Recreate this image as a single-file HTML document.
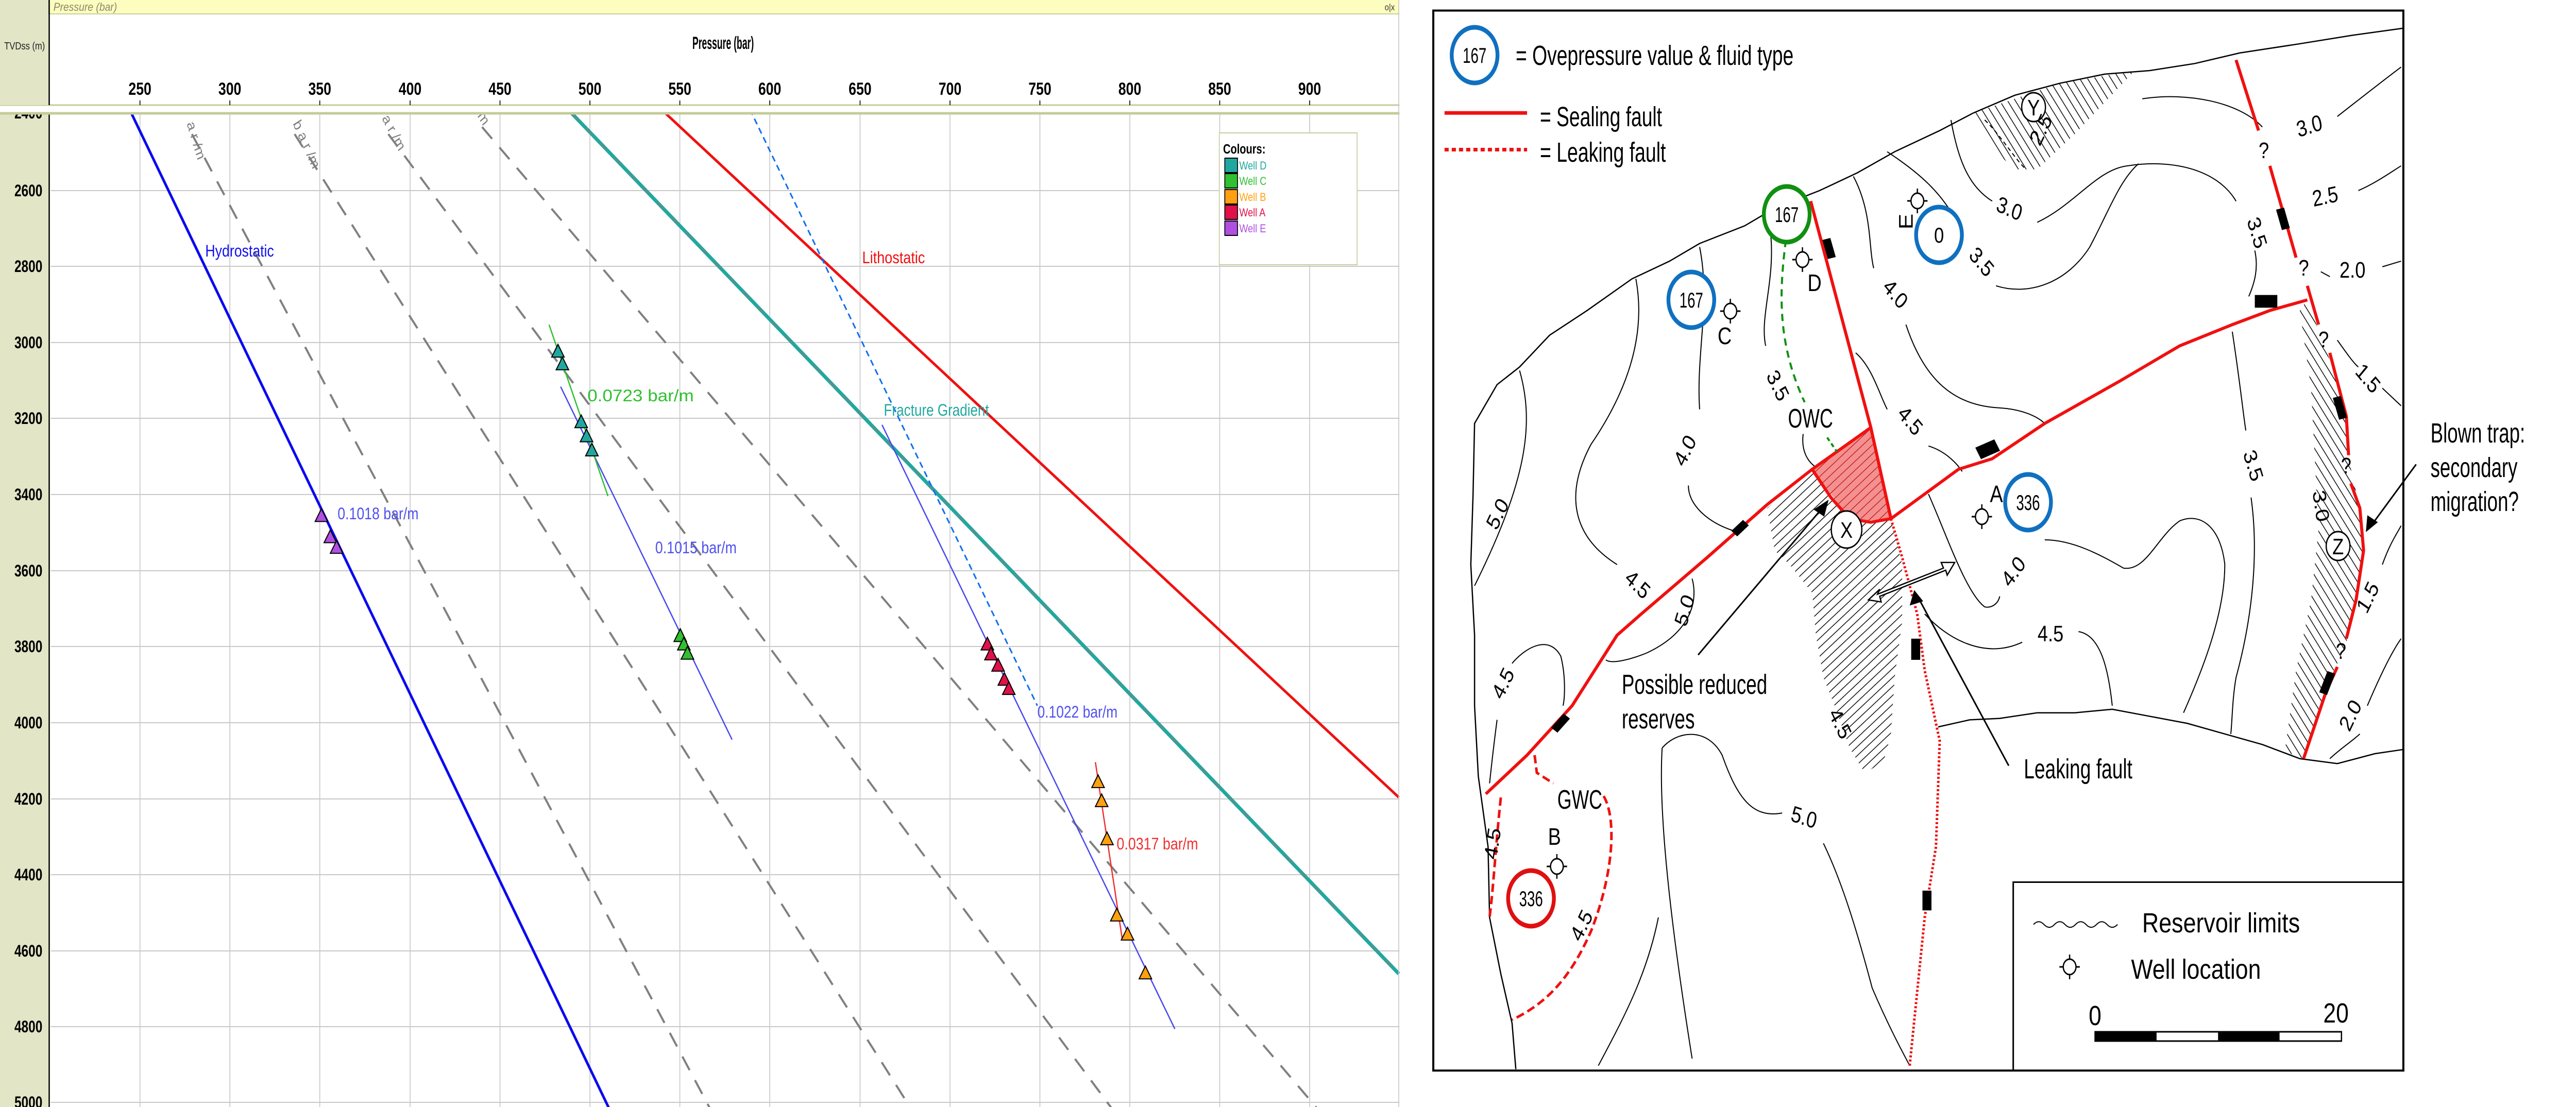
<!DOCTYPE html>
<html><head><meta charset="utf-8"><style>
html,body{margin:0;padding:0;background:#fff;width:100%;height:100%;overflow:hidden;}
svg{display:block;width:100vw;height:100vh;}
text{font-family:"Liberation Sans",sans-serif;}
</style></head><body>
<svg width="6074" height="2149" viewBox="0 0 6074 2149" preserveAspectRatio="none" xmlns="http://www.w3.org/2000/svg">
<defs>
<pattern id="hatch" patternUnits="userSpaceOnUse" width="9" height="9" patternTransform="rotate(45)">
<line x1="0" y1="0" x2="0" y2="9" stroke="#000" stroke-width="2"/>
</pattern>
<pattern id="hatchR" patternUnits="userSpaceOnUse" width="9" height="9" patternTransform="rotate(45)">
<rect width="9" height="9" fill="#f59090"/>
<line x1="0" y1="0" x2="0" y2="9" stroke="#c02020" stroke-width="2"/>
</pattern>
<pattern id="hatch2" patternUnits="userSpaceOnUse" width="9" height="9" patternTransform="rotate(-30)">
<line x1="0" y1="0" x2="0" y2="9" stroke="#000" stroke-width="2"/>
</pattern>
</defs>
<rect width="6074" height="2149" fill="#fff"/>

<!-- ============ LEFT CHART ============ -->
<rect x="0" y="0" width="116" height="2149" fill="#e2e5c6"/>
<line x1="116" y1="0" x2="116" y2="2149" stroke="#000" stroke-width="3"/>
<rect x="117" y="0" width="3183" height="27" fill="#fdfdc0"/>
<line x1="117" y1="27" x2="3300" y2="27" stroke="#c8d0a0" stroke-width="2"/>
<text x="126" y="21" font-size="22" font-style="italic" fill="#8a8a6a" textLength="150" lengthAdjust="spacingAndGlyphs">Pressure (bar)</text>
<text x="3265" y="20" font-size="18" fill="#333">o|x</text>

<!-- grid -->
<g stroke="#c8c8c8" stroke-width="2">
<line x1="330" y1="222" x2="330" y2="2149"/><line x1="542" y1="222" x2="542" y2="2149"/><line x1="754" y1="222" x2="754" y2="2149"/><line x1="967" y1="222" x2="967" y2="2149"/><line x1="1179" y1="222" x2="1179" y2="2149"/><line x1="1391" y1="222" x2="1391" y2="2149"/><line x1="1603" y1="222" x2="1603" y2="2149"/><line x1="1815" y1="222" x2="1815" y2="2149"/><line x1="2028" y1="222" x2="2028" y2="2149"/><line x1="2240" y1="222" x2="2240" y2="2149"/><line x1="2452" y1="222" x2="2452" y2="2149"/><line x1="2664" y1="222" x2="2664" y2="2149"/><line x1="2876" y1="222" x2="2876" y2="2149"/><line x1="3088" y1="222" x2="3088" y2="2149"/>
<line x1="120" y1="370" x2="3300" y2="370"/><line x1="120" y1="517" x2="3300" y2="517"/><line x1="120" y1="665" x2="3300" y2="665"/><line x1="120" y1="812" x2="3300" y2="812"/><line x1="120" y1="960" x2="3300" y2="960"/><line x1="120" y1="1108" x2="3300" y2="1108"/><line x1="120" y1="1255" x2="3300" y2="1255"/><line x1="120" y1="1403" x2="3300" y2="1403"/><line x1="120" y1="1551" x2="3300" y2="1551"/><line x1="120" y1="1698" x2="3300" y2="1698"/><line x1="120" y1="1846" x2="3300" y2="1846"/><line x1="120" y1="1993" x2="3300" y2="1993"/><line x1="120" y1="2140" x2="3300" y2="2140"/>
</g>
<g font-size="32" font-weight="bold" text-anchor="end">
<text x="100" y="381" textLength="66" lengthAdjust="spacingAndGlyphs">2600</text><text x="100" y="528" textLength="66" lengthAdjust="spacingAndGlyphs">2800</text><text x="100" y="676" textLength="66" lengthAdjust="spacingAndGlyphs">3000</text><text x="100" y="823" textLength="66" lengthAdjust="spacingAndGlyphs">3200</text><text x="100" y="971" textLength="66" lengthAdjust="spacingAndGlyphs">3400</text><text x="100" y="1119" textLength="66" lengthAdjust="spacingAndGlyphs">3600</text><text x="100" y="1266" textLength="66" lengthAdjust="spacingAndGlyphs">3800</text><text x="100" y="1414" textLength="66" lengthAdjust="spacingAndGlyphs">4000</text><text x="100" y="1562" textLength="66" lengthAdjust="spacingAndGlyphs">4200</text><text x="100" y="1709" textLength="66" lengthAdjust="spacingAndGlyphs">4400</text><text x="100" y="1857" textLength="66" lengthAdjust="spacingAndGlyphs">4600</text><text x="100" y="2004" textLength="66" lengthAdjust="spacingAndGlyphs">4800</text><text x="100" y="2151" textLength="66" lengthAdjust="spacingAndGlyphs">5000</text>
<text x="100" y="230" textLength="66" lengthAdjust="spacingAndGlyphs">2400</text>
</g>

<!-- chart lines in zoom1 coordinates -->
<g transform="scale(2.105,1.370)" fill="none">
<g stroke="#808080" stroke-width="4" stroke-dasharray="30 22">
<line x1="215" y1="190" x2="795" y2="1570" vector-effect="non-scaling-stroke"/>
<line x1="330" y1="190" x2="1020" y2="1570" vector-effect="non-scaling-stroke"/>
<line x1="435" y1="190" x2="1245" y2="1570" vector-effect="non-scaling-stroke"/>
<line x1="540" y1="180" x2="1475" y2="1570" vector-effect="non-scaling-stroke"/>
</g>
<line x1="147" y1="160" x2="682" y2="1570" stroke="#0a0af0" stroke-width="5" vector-effect="non-scaling-stroke"/>
<line x1="745" y1="160" x2="1567" y2="1130" stroke="#f01010" stroke-width="5" vector-effect="non-scaling-stroke"/>
<line x1="640" y1="160" x2="1567" y2="1380" stroke="#20a8a0" stroke-width="7" vector-effect="non-scaling-stroke"/>
<line x1="640" y1="160" x2="1567" y2="1380" stroke="#808080" stroke-width="2" stroke-dasharray="20 20" vector-effect="non-scaling-stroke"/>
<line x1="840" y1="155" x2="1162" y2="1000" stroke="#1070f0" stroke-width="3" stroke-dasharray="12 8" vector-effect="non-scaling-stroke"/>
<line x1="628" y1="548" x2="820" y2="1048" stroke="#4848f0" stroke-width="2.5" vector-effect="non-scaling-stroke"/>
<line x1="988" y1="602" x2="1316" y2="1458" stroke="#4848f0" stroke-width="2.5" vector-effect="non-scaling-stroke"/>
<line x1="615" y1="460" x2="681" y2="703" stroke="#30c030" stroke-width="2.5" vector-effect="non-scaling-stroke"/>
<line x1="1227" y1="1080" x2="1257" y2="1330" stroke="#f03030" stroke-width="2.5" vector-effect="non-scaling-stroke"/>
<g stroke="#000" stroke-width="2">
<g fill="#20a8a0"><polygon points="618,506 632,506 625,488" vector-effect="non-scaling-stroke"/><polygon points="623,524 637,524 630,506" vector-effect="non-scaling-stroke"/><polygon points="644,606 658,606 651,588" vector-effect="non-scaling-stroke"/><polygon points="650,626 664,626 657,608" vector-effect="non-scaling-stroke"/><polygon points="656,646 670,646 663,628" vector-effect="non-scaling-stroke"/></g>
<g fill="#30c030"><polygon points="755,909 769,909 762,891" vector-effect="non-scaling-stroke"/><polygon points="759,921 773,921 766,903" vector-effect="non-scaling-stroke"/><polygon points="763,934 777,934 770,916" vector-effect="non-scaling-stroke"/></g>
<g fill="#e0104a"><polygon points="1099,921 1113,921 1106,903" vector-effect="non-scaling-stroke"/><polygon points="1103,935 1117,935 1110,917" vector-effect="non-scaling-stroke"/><polygon points="1111,951 1125,951 1118,933" vector-effect="non-scaling-stroke"/><polygon points="1118,971 1132,971 1125,953" vector-effect="non-scaling-stroke"/><polygon points="1123,984 1137,984 1130,966" vector-effect="non-scaling-stroke"/></g>
<g fill="#ffa010"><polygon points="1223,1116 1237,1116 1230,1098" vector-effect="non-scaling-stroke"/><polygon points="1227,1143 1241,1143 1234,1125" vector-effect="non-scaling-stroke"/><polygon points="1233,1197 1247,1197 1240,1179" vector-effect="non-scaling-stroke"/><polygon points="1244,1305 1258,1305 1251,1287" vector-effect="non-scaling-stroke"/><polygon points="1256,1332 1270,1332 1263,1314" vector-effect="non-scaling-stroke"/><polygon points="1276,1387 1290,1387 1283,1369" vector-effect="non-scaling-stroke"/></g>
<g fill="#b050e0"><polygon points="353,739 367,739 360,721" vector-effect="non-scaling-stroke"/><polygon points="363,769 377,769 370,751" vector-effect="non-scaling-stroke"/><polygon points="370,784 384,784 377,766" vector-effect="non-scaling-stroke"/></g>
</g>
</g>
<!-- chart labels -->
<text x="484" y="498" font-size="32" fill="#1010f0" textLength="162" lengthAdjust="spacingAndGlyphs">Hydrostatic</text>
<text x="2033" y="511" font-size="32" fill="#f01010" textLength="148" lengthAdjust="spacingAndGlyphs">Lithostatic</text>
<text x="2084" y="807" font-size="32" fill="#20a8a0" textLength="248" lengthAdjust="spacingAndGlyphs">Fracture Gradient</text>
<text x="1385" y="779" font-size="32" fill="#30c030" textLength="251" lengthAdjust="spacingAndGlyphs">0.0723 bar/m</text>
<text x="796" y="1008" font-size="32" fill="#5050f0" textLength="191" lengthAdjust="spacingAndGlyphs">0.1018 bar/m</text>
<text x="1545" y="1074" font-size="32" fill="#5050f0" textLength="192" lengthAdjust="spacingAndGlyphs">0.1015 bar/m</text>
<text x="2446" y="1393" font-size="32" fill="#5050f0" textLength="189" lengthAdjust="spacingAndGlyphs">0.1022 bar/m</text>
<text x="2633" y="1649" font-size="32" fill="#f03030" textLength="192" lengthAdjust="spacingAndGlyphs">0.0317 bar/m</text>
<g font-size="30" fill="#808080">
<text x="440" y="240" transform="rotate(70 440 240)">a r /m</text>
<text x="690" y="240" transform="rotate(62 690 240)">b a r /m</text>
<text x="900" y="230" transform="rotate(58 900 230)">a r /m</text>
<text x="1125" y="225" transform="rotate(55 1125 225)">m</text>
</g>
<!-- legend -->
<rect x="2875" y="258" width="325" height="256" fill="#fff" stroke="#c8cca0" stroke-width="2"/>
<text x="2884" y="298" font-size="26" font-weight="bold" textLength="100" lengthAdjust="spacingAndGlyphs">Colours:</text>
<g stroke="#000" stroke-width="2">
<rect x="2888" y="307" width="30" height="28" fill="#20a8a0"/>
<rect x="2888" y="337" width="30" height="28" fill="#30c030"/>
<rect x="2888" y="368" width="30" height="28" fill="#ffa010"/>
<rect x="2888" y="398" width="30" height="28" fill="#e0104a"/>
<rect x="2888" y="429" width="30" height="28" fill="#b050e0"/>
</g>
<g font-size="22">
<text x="2922" y="329" fill="#20a8a0">Well D</text>
<text x="2922" y="359" fill="#30c030">Well C</text>
<text x="2922" y="390" fill="#ffa010">Well B</text>
<text x="2922" y="420" fill="#e0104a">Well A</text>
<text x="2922" y="451" fill="#b050e0">Well E</text>
</g>
<!-- header overlay -->
<rect x="117" y="28" width="3183" height="176" fill="#fff"/>
<rect x="0" y="204" width="3300" height="18" fill="#fff"/>
<line x1="0" y1="204" x2="3300" y2="204" stroke="#c4cc98" stroke-width="3"/>
<line x1="0" y1="220" x2="3300" y2="220" stroke="#c4cc98" stroke-width="5"/>
<rect x="0" y="28" width="116" height="176" fill="#e2e5c6"/>
<line x1="116" y1="0" x2="116" y2="204" stroke="#000" stroke-width="3"/>
<text x="10" y="96" font-size="20" fill="#222" textLength="96" lengthAdjust="spacingAndGlyphs">TVDss (m)</text>
<text x="1705" y="95" font-size="34" font-weight="bold" text-anchor="middle" textLength="145" lengthAdjust="spacingAndGlyphs">Pressure (bar)</text>
<g font-size="34" font-weight="bold" text-anchor="middle">
<text x="330" y="184" textLength="54" lengthAdjust="spacingAndGlyphs">250</text><text x="542" y="184" textLength="54" lengthAdjust="spacingAndGlyphs">300</text><text x="754" y="184" textLength="54" lengthAdjust="spacingAndGlyphs">350</text><text x="967" y="184" textLength="54" lengthAdjust="spacingAndGlyphs">400</text><text x="1179" y="184" textLength="54" lengthAdjust="spacingAndGlyphs">450</text><text x="1391" y="184" textLength="54" lengthAdjust="spacingAndGlyphs">500</text><text x="1603" y="184" textLength="54" lengthAdjust="spacingAndGlyphs">550</text><text x="1815" y="184" textLength="54" lengthAdjust="spacingAndGlyphs">600</text><text x="2028" y="184" textLength="54" lengthAdjust="spacingAndGlyphs">650</text><text x="2240" y="184" textLength="54" lengthAdjust="spacingAndGlyphs">700</text><text x="2452" y="184" textLength="54" lengthAdjust="spacingAndGlyphs">750</text><text x="2664" y="184" textLength="54" lengthAdjust="spacingAndGlyphs">800</text><text x="2876" y="184" textLength="54" lengthAdjust="spacingAndGlyphs">850</text><text x="3088" y="184" textLength="54" lengthAdjust="spacingAndGlyphs">900</text>
</g>
<g stroke="#000" stroke-width="2">
<line x1="330" y1="195" x2="330" y2="204"/><line x1="542" y1="195" x2="542" y2="204"/><line x1="754" y1="195" x2="754" y2="204"/><line x1="967" y1="195" x2="967" y2="204"/><line x1="1179" y1="195" x2="1179" y2="204"/><line x1="1391" y1="195" x2="1391" y2="204"/><line x1="1603" y1="195" x2="1603" y2="204"/><line x1="1815" y1="195" x2="1815" y2="204"/><line x1="2028" y1="195" x2="2028" y2="204"/><line x1="2240" y1="195" x2="2240" y2="204"/><line x1="2452" y1="195" x2="2452" y2="204"/><line x1="2664" y1="195" x2="2664" y2="204"/><line x1="2876" y1="195" x2="2876" y2="204"/><line x1="3088" y1="195" x2="3088" y2="204"/>
</g>
<line x1="3298" y1="0" x2="3298" y2="2149" stroke="#c8c8c8" stroke-width="2"/>

<!-- ============ RIGHT MAP (zoom2 coords) ============ -->
<g transform="translate(3300,0) scale(1.769,1.370)" fill="none">
<rect x="45" y="15" width="1293" height="1502" stroke="#000" stroke-width="4" vector-effect="non-scaling-stroke"/>
<path d="M490,720 L550,665 L600,735 L655,735 L670,800 L670,880 L660,960 L655,1040 L645,1080 L620,1095 L600,1060 L580,1000 L565,960 L555,900 L550,840 L520,800 L500,780 Z" fill="url(#hatch)"/>
<path d="M1210,425 L1240,510 L1265,600 L1265,650 L1280,720 L1285,780 L1275,850 L1260,920 L1240,960 L1205,1075 L1180,1065 L1195,950 L1215,850 L1225,750 L1220,650 L1215,550 L1200,440 Z" fill="url(#hatch2)"/>
<path d="M765,160 L880,118 L980,100 L900,190 L850,240 L820,240 L790,210 Z" fill="url(#hatch2)"/>
<path d="M550,665 L628,606 L655,735 L620,738 L600,735 L575,700 Z" fill="url(#hatchR)"/>
<g stroke="#000" stroke-width="2.5">
<path d="M155,1515 L150,1450 L135,1380 L120,1300 L118,1200 L105,1100 L100,1000 L100,900 L95,800 L98,700 L100,600 L130,545 L160,520 L200,475 L250,440 L310,395 L360,370 L400,345 L460,320 L500,295 L560,270 L610,245 L660,215 L720,185 L765,160 L820,135 L880,118 L940,105 L1000,100 L1060,90 L1120,75 L1200,62 L1270,50 L1338,40" vector-effect="non-scaling-stroke"/>
<path d="M718,1030 L760,1020 L800,1018 L850,1010 L900,1010 L950,1005 L1000,1015 L1050,1025 L1100,1040 L1150,1055 L1200,1075 L1250,1082 L1300,1068 L1338,1062" vector-effect="non-scaling-stroke"/>
</g>
<g stroke="#000" stroke-width="2">
<path d="M160,525 C180,600 170,680 100,830" vector-effect="non-scaling-stroke"/>
<path d="M315,395 C330,480 300,560 255,630 C220,700 230,760 290,800" vector-effect="non-scaling-stroke"/>
<path d="M400,350 C415,430 395,500 400,580" vector-effect="non-scaling-stroke"/>
<path d="M385,688 C385,715 410,740 445,752" vector-effect="non-scaling-stroke"/>
<path d="M495,335 C500,400 480,450 488,490" vector-effect="non-scaling-stroke"/>
<path d="M538,615 C535,640 545,655 555,662" vector-effect="non-scaling-stroke"/>
<path d="M605,250 C630,300 625,350 632,380" vector-effect="non-scaling-stroke"/>
<path d="M675,460 C700,540 740,575 800,578 C830,580 850,590 860,600" vector-effect="non-scaling-stroke"/>
<path d="M608,500 C630,520 640,560 650,580" vector-effect="non-scaling-stroke"/>
<path d="M705,632 C730,640 745,660 750,668" vector-effect="non-scaling-stroke"/>
<path d="M650,215 C700,250 720,275 735,300" vector-effect="non-scaling-stroke"/>
<path d="M735,170 C745,230 760,265 790,285" vector-effect="non-scaling-stroke"/>
<path d="M850,315 C900,290 930,240 970,235 C1030,225 1090,240 1115,285" vector-effect="non-scaling-stroke"/>
<path d="M795,405 C840,420 890,400 920,350 C945,300 960,255 985,232" vector-effect="non-scaling-stroke"/>
<path d="M1140,355 C1145,380 1140,400 1132,420" vector-effect="non-scaling-stroke"/>
<path d="M990,140 C1050,130 1120,145 1150,180" vector-effect="non-scaling-stroke"/>
<path d="M1250,165 C1280,140 1310,115 1335,95" vector-effect="non-scaling-stroke"/>
<path d="M1278,270 C1300,260 1320,245 1335,235" vector-effect="non-scaling-stroke"/>
<path d="M1228,385 L1240,392" vector-effect="non-scaling-stroke"/>
<path d="M1310,378 L1335,370" vector-effect="non-scaling-stroke"/>
<path d="M1250,482 C1262,500 1272,515 1278,520" vector-effect="non-scaling-stroke"/>
<path d="M1310,550 L1335,575" vector-effect="non-scaling-stroke"/>
<path d="M1310,800 C1320,770 1330,755 1335,745" vector-effect="non-scaling-stroke"/>
<path d="M1290,1000 C1310,950 1325,920 1335,905" vector-effect="non-scaling-stroke"/>
<path d="M1240,1075 C1255,1060 1270,1050 1280,1040" vector-effect="non-scaling-stroke"/>
<path d="M1110,470 C1120,540 1125,590 1128,610" vector-effect="non-scaling-stroke"/>
<path d="M1135,705 C1145,780 1138,870 1115,960 C1110,990 1110,1020 1108,1040" vector-effect="non-scaling-stroke"/>
<path d="M705,700 C730,760 755,840 780,860 C790,862 798,855 800,845" vector-effect="non-scaling-stroke"/>
<path d="M860,765 C900,765 940,790 965,805 C995,810 1010,760 1040,738 C1070,725 1095,750 1100,800 C1100,870 1070,950 1045,1010" vector-effect="non-scaling-stroke"/>
<path d="M700,870 C730,905 780,935 830,910" vector-effect="non-scaling-stroke"/>
<path d="M905,895 C935,900 945,950 950,1000" vector-effect="non-scaling-stroke"/>
<path d="M350,1060 C370,1035 410,1030 430,1070 C450,1130 470,1160 510,1152" vector-effect="non-scaling-stroke"/>
<path d="M350,1060 C345,1150 360,1300 390,1500" vector-effect="non-scaling-stroke"/>
<path d="M565,1195 C590,1250 610,1320 630,1400 C650,1450 670,1490 680,1510" vector-effect="non-scaling-stroke"/>
<path d="M265,1510 C300,1440 330,1380 345,1300" vector-effect="non-scaling-stroke"/>
<path d="M390,820 C400,860 380,900 330,925 C300,938 280,940 275,935" vector-effect="non-scaling-stroke"/>
<path d="M150,940 C170,915 200,900 215,930 C222,960 220,990 218,1000" vector-effect="non-scaling-stroke"/>
<path d="M130,1020 C125,1060 122,1090 120,1110" vector-effect="non-scaling-stroke"/>
<path d="M780,170 C800,190 820,225 835,240" stroke-dasharray="8 6" vector-effect="non-scaling-stroke"/>
</g>
<g stroke="#f01010" stroke-width="6" stroke-linejoin="round">
<path d="M548,285 L628,605 L655,735" vector-effect="non-scaling-stroke"/>
<path d="M115,1125 L170,1070 L230,1000 L290,900 L320,872 L410,790 L490,715 L550,665 L628,606" vector-effect="non-scaling-stroke"/>
<path d="M550,665 L575,705 L600,735 L628,740 L655,735" vector-effect="non-scaling-stroke"/>
<path d="M655,735 L700,700 L745,665 L790,650 L860,600 L960,540 L1040,490 L1110,460 L1160,440 L1210,425" vector-effect="non-scaling-stroke"/>
<path d="M1115,85 L1145,185" vector-effect="non-scaling-stroke"/>
<path d="M1160,235 L1195,365" vector-effect="non-scaling-stroke"/>
<path d="M1210,405 L1225,460" vector-effect="non-scaling-stroke"/>
<path d="M1240,500 L1262,590 L1265,645" vector-effect="non-scaling-stroke"/>
<path d="M1268,685 L1280,720 L1285,780 L1275,850 L1262,905" vector-effect="non-scaling-stroke"/>
<path d="M1250,945 L1235,980 L1205,1075" vector-effect="non-scaling-stroke"/>
</g>
<g stroke="#f01010" stroke-width="5" stroke-dasharray="4 4">
<path d="M655,735 L670,790 L690,870 L700,950 L720,1050 L715,1200 L700,1300 L680,1510" vector-effect="non-scaling-stroke"/>
<path d="M60,212 L170,212" stroke-width="7" stroke-dasharray="8 6" vector-effect="non-scaling-stroke"/>
</g>
<g stroke="#f01010" stroke-width="5" stroke-dasharray="16 8">
<path d="M180,1070 L183,1095 L205,1110" vector-effect="non-scaling-stroke"/>
<path d="M272,1128 C290,1160 285,1240 255,1320 C230,1380 200,1420 150,1445" vector-effect="non-scaling-stroke"/>
<path d="M135,1130 C128,1200 125,1260 120,1300" vector-effect="non-scaling-stroke"/>
</g>
<line x1="60" y1="160" x2="170" y2="160" stroke="#f01010" stroke-width="7" vector-effect="non-scaling-stroke"/>
<path d="M515,340 C505,420 505,490 540,570" stroke="#109010" stroke-width="4" stroke-dasharray="14 10" vector-effect="non-scaling-stroke"/>
<path d="M570,620 L583,640" stroke="#109010" stroke-width="4" stroke-dasharray="8 6" vector-effect="non-scaling-stroke"/>
<g fill="#000">
<rect x="567" y="338" width="11" height="28" transform="rotate(-15 573 352)"/>
<rect x="449" y="738" width="11" height="22" transform="rotate(45 455 748)"/>
<rect x="770" y="628" width="28" height="18" transform="rotate(-25 783 637)"/>
<rect x="1140" y="418" width="30" height="18"/>
<rect x="1172" y="295" width="11" height="30" transform="rotate(-15 1178 310)"/>
<rect x="209" y="1012" width="11" height="26" transform="rotate(40 215 1025)"/>
<rect x="682" y="905" width="12" height="30"/>
<rect x="697" y="1262" width="12" height="28"/>
<rect x="1248" y="562" width="11" height="32" transform="rotate(-15 1253 578)"/>
<rect x="1231" y="952" width="11" height="32" transform="rotate(20 1237 968)"/>
</g>
<path d="M818,1517 L818,1250 L1338,1250" stroke="#000" stroke-width="3" vector-effect="non-scaling-stroke"/>
<path d="M845,1310 q7,-8 14,0 t14,0 t14,0 t14,0 t14,0 t14,0 t14,0 t14,0" stroke="#000" stroke-width="2" vector-effect="non-scaling-stroke"/>
<g stroke="#000" stroke-width="3">
<line x1="398" y1="928" x2="565" y2="718" vector-effect="non-scaling-stroke"/>
<line x1="812" y1="1085" x2="692" y2="848" vector-effect="non-scaling-stroke"/>
<line x1="1355" y1="658" x2="1295" y2="745" vector-effect="non-scaling-stroke"/>
</g>
<g fill="#000">
<polygon points="572,708 552,722 566,732"/>
<polygon points="686,836 680,858 698,852"/>
<polygon points="1288,754 1290,730 1304,740"/>
</g>
<polygon points="625,850 640,835 637,842 725,805 722,797 740,797 730,815 728,808 640,845 642,853" fill="#fff" stroke="#000" stroke-width="2.5" vector-effect="non-scaling-stroke"/>
</g>

<rect x="4940" y="2003" width="581" height="18" fill="#fff" stroke="#000" stroke-width="3"/>
<rect x="4940" y="2003" width="145" height="18" fill="#000"/>
<rect x="5230" y="2003" width="145" height="18" fill="#000"/>

<g fill="#fff" stroke-width="9">
<circle cx="3477" cy="107" r="54" stroke="#1070c0"/>
<circle cx="4213" cy="416" r="54" stroke="#109010"/>
<circle cx="4572" cy="456" r="54" stroke="#1070c0"/>
<circle cx="3988" cy="582" r="54" stroke="#1070c0"/>
<circle cx="4782" cy="975" r="54" stroke="#1070c0"/>
<circle cx="3610" cy="1744" r="54" stroke="#e01010"/>
</g>
<g font-size="42" text-anchor="middle">
<text x="3477" y="122" textLength="56" lengthAdjust="spacingAndGlyphs">167</text>
<text x="4213" y="431" textLength="56" lengthAdjust="spacingAndGlyphs">167</text>
<text x="4572" y="471">0</text>
<text x="3988" y="597" textLength="56" lengthAdjust="spacingAndGlyphs">167</text>
<text x="4782" y="990" textLength="56" lengthAdjust="spacingAndGlyphs">336</text>
<text x="3610" y="1759" textLength="56" lengthAdjust="spacingAndGlyphs">336</text>
</g>
<g fill="#fff" stroke="#000" stroke-width="3">
<circle cx="4354" cy="1028" r="36"/>
<circle cx="4795" cy="208" r="28"/>
<circle cx="5513" cy="1060" r="28"/>
</g>
<g font-size="44" text-anchor="middle">
<text x="4354" y="1044">X</text><text x="4795" y="224">Y</text><text x="5513" y="1076">Z</text>
</g>
<g fill="none" stroke="#000" stroke-width="3">
<g transform="translate(4250,504)"><circle r="15"/><path d="M0,-24V-15M0,15V24M-24,0H-15M15,0H24"/></g>
<g transform="translate(4521,390)"><circle r="15"/><path d="M0,-24V-15M0,15V24M-24,0H-15M15,0H24"/></g>
<g transform="translate(4080,604)"><circle r="15"/><path d="M0,-24V-15M0,15V24M-24,0H-15M15,0H24"/></g>
<g transform="translate(4673,1003)"><circle r="15"/><path d="M0,-24V-15M0,15V24M-24,0H-15M15,0H24"/></g>
<g transform="translate(3671,1682)"><circle r="15"/><path d="M0,-24V-15M0,15V24M-24,0H-15M15,0H24"/></g>
<g transform="translate(4880,1877)"><circle r="15"/><path d="M0,-24V-15M0,15V24M-24,0H-15M15,0H24"/></g>
</g>
<g font-size="46">
<text x="4262" y="565">D</text>
<text x="4500" y="440" transform="rotate(-90 4500 430)" text-anchor="middle">E</text>
<text x="4050" y="668">C</text>
<text x="4692" y="975">A</text>
<text x="3650" y="1640">B</text>
</g>
<g font-size="52" text-anchor="middle">
<text x="4269" y="830" textLength="106" lengthAdjust="spacingAndGlyphs">OWC</text>
<text x="3725" y="1570" textLength="106" lengthAdjust="spacingAndGlyphs">GWC</text>
</g>
<g font-size="54">
<text x="3574" y="126" textLength="655" lengthAdjust="spacingAndGlyphs">= Ovepressure value &amp; fluid type</text>
<text x="3631" y="245" textLength="288" lengthAdjust="spacingAndGlyphs">= Sealing fault</text>
<text x="3631" y="314" textLength="297" lengthAdjust="spacingAndGlyphs">= Leaking fault</text>
<text x="3824" y="1347" textLength="343" lengthAdjust="spacingAndGlyphs">Possible reduced</text>
<text x="3824" y="1414" textLength="172" lengthAdjust="spacingAndGlyphs">reserves</text>
<text x="4772" y="1511" textLength="256" lengthAdjust="spacingAndGlyphs">Leaking fault</text>
<text x="5731" y="859" textLength="223" lengthAdjust="spacingAndGlyphs">Blown trap:</text>
<text x="5731" y="926" textLength="205" lengthAdjust="spacingAndGlyphs">secondary</text>
<text x="5731" y="992" textLength="208" lengthAdjust="spacingAndGlyphs">migration?</text>
<text x="5051" y="1810" textLength="372" lengthAdjust="spacingAndGlyphs">Reservoir limits</text>
<text x="5025" y="1900" textLength="306" lengthAdjust="spacingAndGlyphs">Well location</text>
<text x="4940" y="1990" text-anchor="middle">0</text>
<text x="5508" y="1985" text-anchor="middle">20</text>
</g>
<g font-size="44" text-anchor="middle">
<text x="5449" y="259" transform="rotate(-15 5449 259)">3.0</text>
<text x="5485" y="396" transform="rotate(-10 5485 396)">2.5</text>
<text x="5547" y="539">2.0</text>
<text x="5573" y="745" transform="rotate(45 5573 745)">1.5</text>
<text x="5308" y="457" transform="rotate(70 5308 457)">3.5</text>
<text x="4733" y="419" transform="rotate(20 4733 419)">3.0</text>
<text x="4662" y="519" transform="rotate(45 4662 519)">3.5</text>
<text x="4459" y="581" transform="rotate(45 4459 581)">4.0</text>
<text x="4494" y="827" transform="rotate(45 4494 827)">4.5</text>
<text x="4179" y="756" transform="rotate(60 4179 756)">3.5</text>
<text x="3986" y="882" transform="rotate(-60 3986 882)">4.0</text>
<text x="3544" y="1005" transform="rotate(-60 3544 1005)">5.0</text>
<text x="3852" y="1146" transform="rotate(40 3852 1146)">4.5</text>
<text x="3986" y="1190" transform="rotate(-70 3986 1190)">5.0</text>
<text x="3557" y="1334" transform="rotate(-60 3557 1334)">4.5</text>
<text x="3534" y="1640" transform="rotate(-80 3534 1640)">4.5</text>
<text x="3742" y="1804" transform="rotate(-60 3742 1804)">4.5</text>
<text x="4326" y="1412" transform="rotate(60 4326 1412)">4.5</text>
<text x="4250" y="1601" transform="rotate(15 4250 1601)">5.0</text>
<text x="4835" y="1245">4.5</text>
<text x="4759" y="1119" transform="rotate(-50 4759 1119)">4.0</text>
<text x="5299" y="909" transform="rotate(70 5299 909)">3.5</text>
<text x="5458" y="985" transform="rotate(80 5458 985)">3.0</text>
<text x="5596" y="1167" transform="rotate(-60 5596 1167)">1.5</text>
<text x="5555" y="1396" transform="rotate(-60 5555 1396)">2.0</text>
<text x="4825" y="259" transform="rotate(-60 4825 259)">2.5</text>
<text x="5338" y="307">?</text>
<text x="5432" y="535">?</text>
<text x="5479" y="674">?</text>
<text x="5532" y="919">?</text>
<text x="5520" y="1279">?</text>
</g>
</svg>
</body></html>
